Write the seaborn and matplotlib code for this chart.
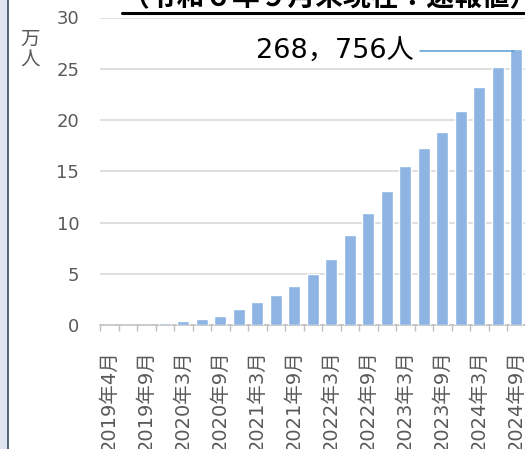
import matplotlib
matplotlib.use("Agg")
import matplotlib.pyplot as plt
from matplotlib.lines import Line2D
from matplotlib.patches import Rectangle
import seaborn as sns
import pandas as pd
import numpy as np

# ---- data ----
categories = [
    "2019年4月", "2019年6月", "2019年9月", "2019年12月",
    "2020年3月", "2020年6月", "2020年9月", "2020年12月",
    "2021年3月", "2021年6月", "2021年9月", "2021年12月",
    "2022年3月", "2022年6月", "2022年9月", "2022年12月",
    "2023年3月", "2023年6月", "2023年9月", "2023年12月",
    "2024年3月", "2024年6月", "2024年9月",
]
values_man = [0.0, 0.002, 0.02, 0.16,
              0.40, 0.60, 0.88, 1.57,
              2.26, 2.91, 3.83, 4.97,
              6.47, 8.75, 10.88, 13.09,
              15.49, 17.31, 18.86, 20.85,
              23.20, 25.17, 26.88]
latest_total = 268756
y_ticks = [0, 5, 10, 15, 20, 25, 30]
title_text = "（令和６年９月末現在：速報値）"
unit_text = "万\n人"

sns.set_theme(style="white")
plt.rcParams["font.family"] = ["DejaVu Sans", "Noto Sans CJK JP"]
CJK = ["Noto Sans CJK JP", "DejaVu Sans"]
MIX = ["DejaVu Sans", "Noto Sans CJK JP"]

W, H = 525, 449
fig = plt.figure(figsize=(W / 100, H / 100), dpi=100)
ax = fig.add_axes([100 / W, (H - 325) / H, 425.5 / W, (325 - 17.5) / H])

df = pd.DataFrame({"month": categories, "value": values_man})
sns.barplot(data=df, x="month", y="value", color="#8DB4E2", saturation=1,
            width=0.65, ax=ax, zorder=3)

ax.set_xlim(-0.5, len(categories) - 0.5)
ax.set_ylim(0, 30)
ax.set_yticks(y_ticks)
ax.set_yticklabels([str(t) for t in y_ticks], fontsize=13, color="#595959",
                   family=MIX)
ax.yaxis.grid(True, color="#d9d9d9", linewidth=1.2, zorder=0)
ax.xaxis.grid(False)
ax.set_xlabel("")
ax.set_ylabel("")

# x labels every other category
idx = list(range(0, len(categories), 2))
ax.set_xticks(idx)
ax.set_xticklabels([categories[i] for i in idx], rotation=90, fontsize=14,
                   color="#595959", ha="right", va="center",
                   rotation_mode="anchor", family=MIX)
ax.set_xticks(np.arange(-0.5, len(categories), 1), minor=True)
ax.tick_params(axis="x", which="major", length=0, pad=18)
ax.tick_params(axis="x", which="minor", length=4, width=1, color="#bfbfbf",
               direction="out", bottom=True)
ax.tick_params(axis="y", length=0, pad=15)

for s in ["top", "right", "left"]:
    ax.spines[s].set_visible(False)
ax.spines["bottom"].set_color("#bfbfbf")
ax.spines["bottom"].set_linewidth(1.2)

# annotation of latest value
last_i = len(values_man) - 1
last_v = values_man[-1]
label = f"{latest_total:,}".replace(",", "，") + "人"
ax.text(last_i - 5.55, last_v - 0.2, label, ha="right", va="center",
        fontsize=19.5, color="black", zorder=5, family=MIX)
ax.plot([last_i - 5.2, last_i - 0.1], [last_v - 0.1, last_v - 0.1],
        color="#5B9BD5", linewidth=1.1, zorder=4, clip_on=False)

# unit label
fig.text(30 / W, (H - 50) / H, unit_text, ha="center", va="center",
         fontsize=14, color="#595959", linespacing=1.0, family=CJK)

# title (cut off at the top) with underline
fig.text(122 / W, (H - 11) / H, title_text, ha="left", va="bottom",
         fontsize=20, fontweight="bold", color="black", family=CJK)
fig.add_artist(Line2D([122 / W, 1.0], [(H - 12.7) / H, (H - 12.7) / H],
                      color="black", linewidth=2.2))

# left border strip
fig.add_artist(Rectangle((0, 0), 7 / W, 1, transform=fig.transFigure,
                         facecolor="#dfe6f2", edgecolor="none"))
fig.add_artist(Line2D([7.5 / W, 7.5 / W], [0, 1], color="#44546a",
                      linewidth=1.3))

fig.savefig("out.png", dpi=100)
